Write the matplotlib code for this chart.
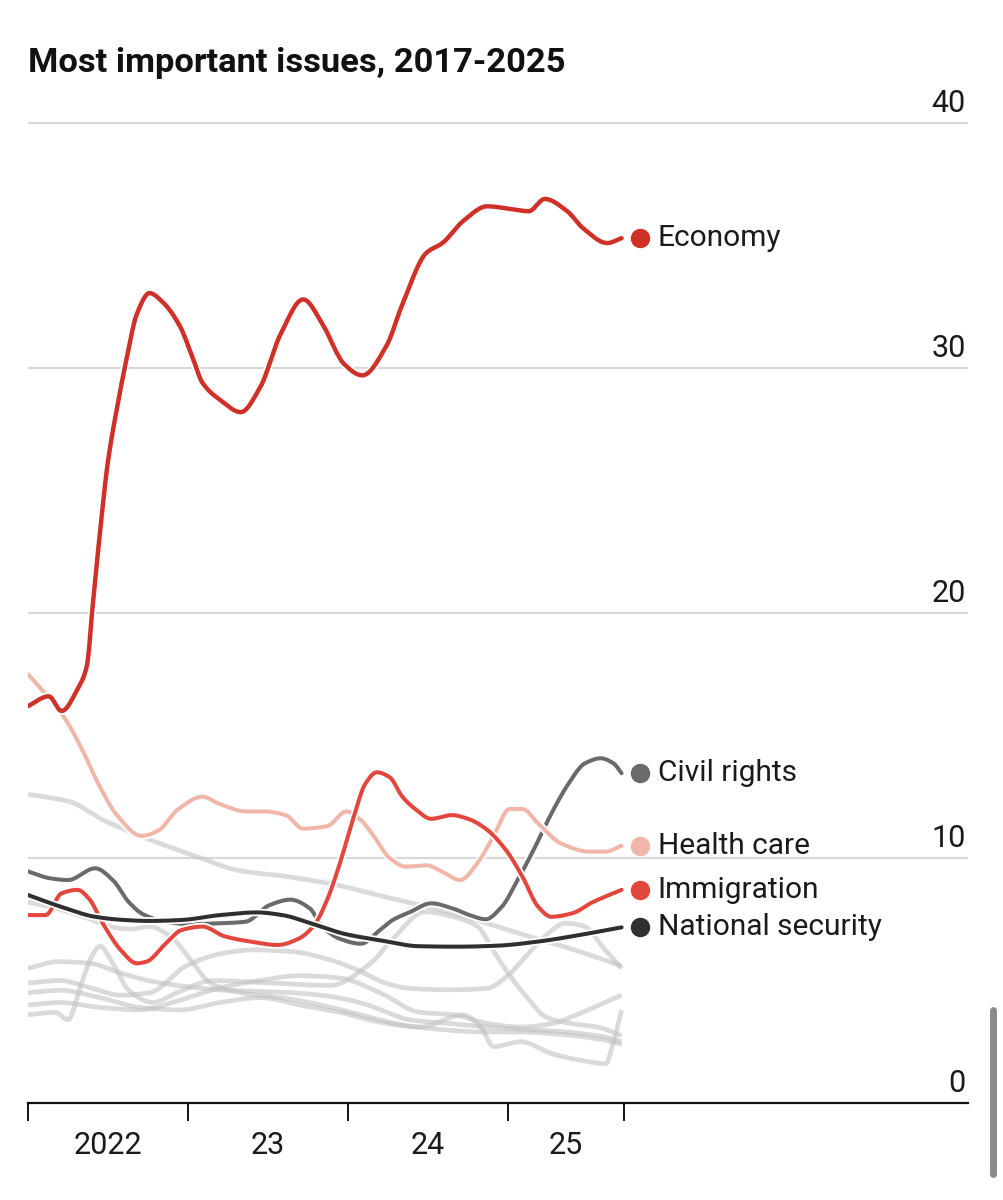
import numpy as np
import matplotlib
matplotlib.use('Agg')
import matplotlib.pyplot as plt
import matplotlib.patheffects as pe
import matplotlib.transforms as mtransforms
from matplotlib.lines import Line2D

plt.rcParams['font.family'] = ['Roboto', 'DejaVu Sans']

# ---------------- data (decimal year, share %) ----------------
economy_x = [2022.00, 2022.13, 2022.21, 2022.31, 2022.37, 2022.40, 2022.45, 2022.50, 2022.56, 2022.62,
             2022.68, 2022.76, 2022.84, 2022.95, 2023.03, 2023.09, 2023.20, 2023.33, 2023.45, 2023.58,
             2023.72, 2023.84, 2023.94, 2023.97, 2024.09, 2024.24, 2024.34, 2024.49, 2024.59, 2024.72,
             2024.87, 2025.01, 2025.13, 2025.23, 2025.37, 2025.47, 2025.62, 2025.71]
economy_y = [16.2, 16.6, 16.0, 16.9, 17.9, 20.0, 23.3, 26.2, 28.5, 30.5,
             32.2, 33.06, 32.7, 31.7, 30.4, 29.4, 28.7, 28.2, 29.2, 31.4,
             32.8, 31.8, 30.5, 30.2, 29.7, 30.9, 32.6, 34.7, 35.1, 36.0,
             36.6, 36.5, 36.4, 36.9, 36.4, 35.7, 35.1, 35.3]

health_x = [2022.00, 2022.11, 2022.24, 2022.34, 2022.45, 2022.55, 2022.71, 2022.81, 2022.94, 2023.09,
            2023.20, 2023.36, 2023.48, 2023.61, 2023.72, 2023.87, 2023.99, 2024.08, 2024.16, 2024.26,
            2024.36, 2024.49, 2024.60, 2024.70, 2024.81, 2024.91, 2025.01, 2025.09, 2025.19, 2025.33,
            2025.51, 2025.61, 2025.71]
health_y = [17.5, 16.7, 15.6, 14.4, 12.9, 11.8, 10.9, 11.1, 12.0, 12.5,
            12.2, 11.9, 11.9, 11.75, 11.2, 11.3, 11.9, 11.55, 10.9, 10.0,
            9.65, 9.7, 9.4, 9.1, 9.8, 10.9, 12.0, 12.0, 11.4, 10.6,
            10.26, 10.26, 10.5]

immig_x = [2022.00, 2022.11, 2022.21, 2022.31, 2022.38, 2022.47, 2022.58, 2022.68, 2022.74, 2022.86,
           2022.96, 2023.09, 2023.23, 2023.38, 2023.56, 2023.69, 2023.79, 2023.87, 2023.95, 2024.03,
           2024.11, 2024.18, 2024.26, 2024.34, 2024.42, 2024.52, 2024.65, 2024.75, 2024.86, 2024.99,
           2025.09, 2025.19, 2025.27, 2025.40, 2025.53, 2025.71]
immig_y = [7.67, 7.67, 8.56, 8.7, 8.35, 7.3, 6.24, 5.7, 5.77, 6.5,
           7.06, 7.2, 6.8, 6.6, 6.45, 6.7, 7.27, 8.3, 9.8, 11.55,
           13.05, 13.5, 13.3, 12.5, 12.0, 11.6, 11.75, 11.6, 11.2, 10.3,
           9.24, 8.0, 7.6, 7.74, 8.2, 8.7]

civil_x = [2022.00, 2022.14, 2022.25, 2022.42, 2022.53, 2022.63, 2022.72, 2022.86, 2023.01, 2023.18,
           2023.36, 2023.51, 2023.64, 2023.76, 2023.84, 2023.95, 2024.08, 2024.20, 2024.28, 2024.39,
           2024.52, 2024.65, 2024.76, 2024.86, 2024.96, 2025.06, 2025.17, 2025.27, 2025.38, 2025.48,
           2025.58, 2025.66, 2025.71]
civil_y = [9.45, 9.17, 9.1, 9.58, 9.1, 8.2, 7.7, 7.4, 7.3, 7.33,
           7.4, 8.08, 8.3, 7.95, 7.2, 6.7, 6.5, 7.06, 7.47, 7.8,
           8.15, 7.95, 7.67, 7.5, 8.0, 9.1, 10.46, 11.8, 13.05, 13.86,
           14.07, 13.86, 13.46]

natsec_x = [2022.00, 2022.21, 2022.42, 2022.60, 2022.76, 2022.96, 2023.20, 2023.43, 2023.59, 2023.77,
            2023.98, 2024.21, 2024.44, 2024.68, 2024.93, 2025.19, 2025.45, 2025.71]
natsec_y = [8.49, 8.0, 7.6, 7.47, 7.43, 7.47, 7.67, 7.78, 7.67, 7.33,
            6.9, 6.63, 6.4, 6.38, 6.42, 6.59, 6.86, 7.17]

# other (unlabelled) issues, drawn in light grey
other1_x = [2022.00, 2022.26, 2022.47, 2022.78, 2023.06, 2023.31, 2023.62, 2023.89, 2024.24, 2024.66, 2025.08, 2025.39, 2025.71]
other1_y = [12.6, 12.3, 11.55, 10.7, 10.05, 9.5, 9.24, 8.95, 8.4, 7.74, 6.9, 6.3, 5.6]

other2_x = [2022.00, 2022.17, 2022.25, 2022.33, 2022.40, 2022.45, 2022.53, 2022.63, 2022.78, 2022.93, 2023.16, 2023.51,
            2023.89, 2024.14, 2024.28, 2024.48, 2024.66, 2024.81, 2024.91, 2024.99, 2025.12, 2025.24, 2025.39, 2025.56, 2025.71]
other2_y = [3.6, 3.7, 3.4, 4.8, 6.0, 6.4, 5.7, 4.6, 4.1, 4.5, 5.0, 4.9,
            4.8, 5.7, 6.7, 7.8, 7.6, 7.2, 6.2, 5.4, 4.3, 3.5, 3.25, 3.1, 2.75]

other3_x = [2022.00, 2022.19, 2022.39, 2022.58, 2022.75, 2022.99, 2023.24, 2023.46, 2023.65, 2023.89,
            2024.09, 2024.26, 2024.38, 2024.63, 2024.87, 2025.11, 2025.36, 2025.60, 2025.71]
other3_y = [5.5, 5.77, 5.7, 5.3, 5.0, 4.75, 4.6, 4.55, 4.5, 4.35,
            4.07, 3.66, 3.4, 3.25, 3.1, 3.0, 2.9, 2.7, 2.5]

other4_x = [2022.00, 2022.20, 2022.39, 2022.58, 2022.76, 2022.99, 2023.21, 2023.41, 2023.65, 2023.89, 2024.06,
            2024.24, 2024.38, 2024.63, 2024.87, 2024.99, 2025.11, 2025.23, 2025.36, 2025.48, 2025.60, 2025.71]
other4_y = [4.9, 5.0, 4.7, 4.4, 4.5, 5.6, 6.1, 6.25, 6.18, 5.84, 5.43,
            4.88, 4.68, 4.62, 4.68, 5.15, 5.97, 6.8, 7.34, 7.2, 6.3, 5.5]

other5_x = [2022.00, 2022.20, 2022.45, 2022.70, 2022.95, 2023.20, 2023.45, 2023.70, 2023.95, 2024.20,
            2024.45, 2024.72, 2024.83, 2024.91, 2025.08, 2025.28, 2025.49, 2025.61, 2025.66, 2025.71]
other5_y = [4.5, 4.6, 4.3, 3.9, 3.8, 4.1, 4.3, 4.0, 3.7, 3.3,
            3.1, 3.6, 3.1, 2.3, 2.5, 2.0, 1.7, 1.6, 2.5, 3.8]

other6_x = [2022.00, 2022.20, 2022.45, 2022.70, 2022.95, 2023.20, 2023.45, 2023.70, 2023.95, 2024.20,
            2024.45, 2024.66, 2024.87, 2025.08, 2025.28, 2025.45, 2025.71]
other6_y = [4.0, 4.1, 3.9, 3.8, 4.2, 4.7, 5.0, 5.2, 5.1, 4.5,
            3.7, 3.6, 3.25, 3.1, 3.25, 3.66, 4.41]

other7_x = [2022.00, 2022.20, 2022.39, 2022.51, 2022.64, 2022.76, 2022.89, 2023.01, 2023.14, 2023.33,
            2023.58, 2023.83, 2024.08, 2024.33, 2024.58, 2024.83, 2025.08, 2025.33, 2025.58, 2025.71]
other7_y = [8.2, 7.9, 7.5, 7.2, 7.1, 7.2, 6.8, 5.9, 4.9, 4.5,
            4.3, 4.0, 3.6, 3.2, 3.0, 2.9, 2.9, 2.8, 2.6, 2.4]

labels = ['Economy', 'Civil rights', 'Health care', 'Immigration', 'National security']
colors = ['#cf3128', '#6a6a6a', '#f0b6aa', '#e3463d', '#2f2f2f']

year_ticks = [2022, 2023, 2024, 2025, 2025.725]
year_labels = ['2022', '23', '24', '25']
y_ticks = [0, 10, 20, 30, 40]

title = 'Most important issues, 2017-2025'


def smooth(x, y, n=400):
    """Monotone cubic (PCHIP-style) curve through the data points, for drawing."""
    x = np.asarray(x, float)
    y = np.asarray(y, float)
    h = np.diff(x)
    d = np.diff(y) / h
    m = np.zeros_like(y)
    m[0], m[-1] = d[0], d[-1]
    for k in range(1, len(y) - 1):
        if d[k - 1] * d[k] > 0:
            w1 = 2 * h[k] + h[k - 1]
            w2 = h[k] + 2 * h[k - 1]
            m[k] = (w1 + w2) / (w1 / d[k - 1] + w2 / d[k])
    xn = np.linspace(x[0], x[-1], n)
    i = np.clip(np.searchsorted(x, xn) - 1, 0, len(x) - 2)
    t = (xn - x[i]) / h[i]
    h00 = 2 * t**3 - 3 * t**2 + 1
    h10 = t**3 - 2 * t**2 + t
    h01 = -2 * t**3 + 3 * t**2
    h11 = t**3 - t**2
    yn = h00 * y[i] + h10 * h[i] * m[i] + h01 * y[i + 1] + h11 * h[i] * m[i + 1]
    return xn, yn


W, H = 1004, 1200
fig = plt.figure(figsize=(W / 100, H / 100), dpi=100)
fig.patch.set_facecolor('white')

px_per_unit = 24.5
ymax = 41
ax_left, ax_right = 28, 968
ax_bottom = 1103
ax = fig.add_axes([ax_left / W, (H - ax_bottom) / H, (ax_right - ax_left) / W, ymax * px_per_unit / H])
ax.set_xlim(2022.0, 2022.0 + (ax_right - ax_left) / 160)
ax.set_ylim(0, ymax)
ax.set_facecolor('none')

for s in ['top', 'left', 'right']:
    ax.spines[s].set_visible(False)
ax.spines['bottom'].set_color('#111111')
ax.spines['bottom'].set_linewidth(1.6)
ax.spines['bottom'].set_zorder(10)

ax.set_yticks(y_ticks)
ax.yaxis.grid(True, color='#d8d8d8', linewidth=1.6)
ax.set_axisbelow(True)
ax.tick_params(axis='y', length=0, labelleft=False)
for v in y_ticks:
    ax.annotate(str(v), xy=(0.9975, v), xycoords=('axes fraction', 'data'),
                xytext=(0, 11), textcoords='offset pixels', ha='right', va='baseline',
                fontsize=22, color='#1a1a1a')

ax.set_xticks(year_ticks)
ax.set_xticklabels([])
ax.tick_params(axis='x', which='major', direction='out', length=13, width=1.4, color='#111111')
mids = [(year_ticks[i] + year_ticks[i + 1]) / 2 for i in range(len(year_labels))]
ax.set_xticks(mids, minor=True)
ax.set_xticklabels(year_labels, minor=True, fontsize=22, color='#1a1a1a')
ax.tick_params(axis='x', which='minor', length=0, pad=20)

# grey background lines
others = [(other1_x, other1_y), (other2_x, other2_y), (other3_x, other3_y), (other4_x, other4_y),
          (other5_x, other5_y), (other6_x, other6_y), (other7_x, other7_y)]
for ox, oy in others:
    sx, sy = smooth(ox, oy)
    ax.plot(sx, sy, color='#c2c2c2', alpha=0.6, lw=3.4, solid_capstyle='butt', zorder=2)

series = {
    'Economy': (economy_x, economy_y, 6),
    'Civil rights': (civil_x, civil_y, 3),
    'Health care': (health_x, health_y, 4),
    'Immigration': (immig_x, immig_y, 5),
    'National security': (natsec_x, natsec_y, 5.5),
}
dot_tr = mtransforms.offset_copy(ax.transData, fig=fig, x=18, y=0, units='dots')
for name, col in zip(labels, colors):
    xs, ys, z = series[name]
    sx, sy = smooth(xs, ys)
    lw = 3.2 if name == 'Economy' else 2.9
    ax.plot(sx, sy, color=col, lw=lw, zorder=z, solid_capstyle='round',
            path_effects=[pe.Stroke(linewidth=lw + 2.6, foreground='white'), pe.Normal()])
    ax.plot([xs[-1]], [ys[-1]], 'o', color=col, ms=13, transform=dot_tr, zorder=8, clip_on=False)
    ax.annotate(name, xy=(xs[-1], ys[-1]), xytext=(36, 0), textcoords='offset pixels',
                ha='left', va='center', fontsize=21.5, color='#1a1a1a', zorder=9)

fig.text(28 / W, 1 - 72 / H, title, ha='left', va='baseline', fontsize=24.8, fontweight='bold',
         color='#111111')

# screenshot scrollbar at the right edge
fig.add_artist(Line2D([993.5 / W, 993.5 / W], [1 - 1010 / H, 1 - 1174 / H], transform=fig.transFigure,
                      color='#8a8a8a', lw=5, solid_capstyle='round'))

fig.savefig('out.png', dpi=100, facecolor='white')
